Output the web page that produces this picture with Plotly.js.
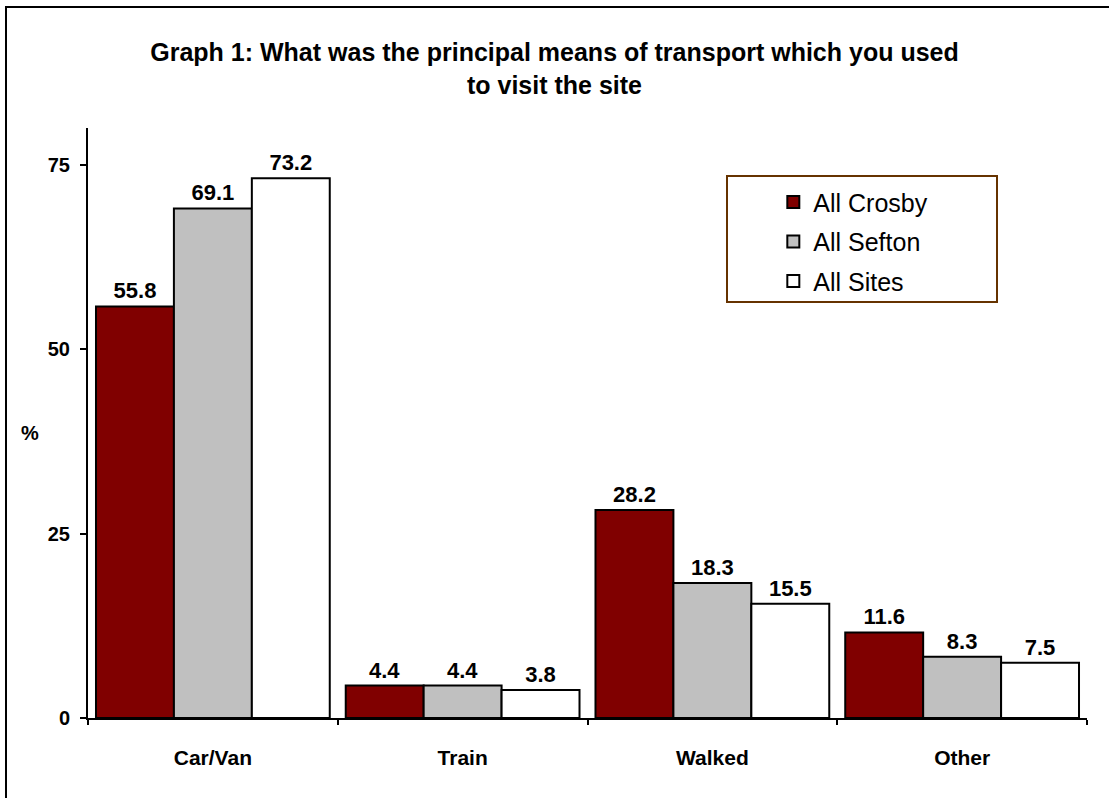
<!DOCTYPE html>
<html><head><meta charset="utf-8">
<script src="https://cdn.plot.ly/plotly-3.0.1.min.js"></script>
<style>
html,body{margin:0;padding:0;background:#fff;overflow:hidden}
#wrap{position:relative;width:1109px;height:798px}
#chart{position:absolute;left:0;top:0;width:1109px;height:798px}
#frame{position:absolute;left:5px;top:6px;width:1200px;height:900px;border-left:2px solid #000;border-top:2px solid #000;pointer-events:none}
</style></head>
<body><div id="wrap"><div id="chart"></div><div id="frame"></div></div>
<script>
const categories = ["Car/Van", "Train", "Walked", "Other"];
const seriesNames = ["All Crosby", "All Sefton", "All Sites"];
const allCrosby = [55.8, 4.4, 28.2, 11.6];
const allSefton = [69.1, 4.4, 18.3, 8.3];
const allSites = [73.2, 3.8, 15.5, 7.5];
const yTicks = [0, 25, 50, 75];

const colors = ["#800000", "#C0C0C0", "#FFFFFF"];
const values = [allCrosby, allSefton, allSites];
const F = "Arial, 'Liberation Sans', sans-serif";

const traces = values.map((v, i) => ({
  type: "bar",
  name: seriesNames[i],
  x: categories,
  y: v,
  legendgroup: "g" + i,
  marker: {color: colors[i], line: {color: "#000", width: 2}},
  texttemplate: "%{y:.1f}",
  textposition: "outside",
  textfont: {family: F, size: 22, color: "#000", weight: "bold"},
  cliponaxis: false,
  hoverinfo: "x+y+name"
}));

const layout = {
  width: 1109, height: 798,
  margin: {l: 88, r: 22, t: 128, b: 80, pad: 0},
  paper_bgcolor: "#fff", plot_bgcolor: "#fff",
  font: {family: F, color: "#000"},
  title: {
    text: "<b>Graph 1: What was the principal means of transport which you used<br>to visit the site</b>",
    font: {family: F, size: 25, color: "#000"},
    x: 0.5, xanchor: "center", xref: "container",
    y: 1 - 61/798, yanchor: "top", yref: "container"
  },
  barmode: "group",
  bargap: 0.064,
  bargroupgap: 0,
  xaxis: {
    type: "category",
    showline: true, linecolor: "#000", linewidth: 2,
    ticks: "outside", tickson: "boundaries", ticklen: 5, tickwidth: 2, tickcolor: "#000",
    tickfont: {family: F, size: 21, color: "#000", weight: "bold"},
    ticklabelstandoff: 20,
    showgrid: false, zeroline: false
  },
  yaxis: {
    range: [0, 80],
    tickvals: yTicks,
    showline: true, linecolor: "#000", linewidth: 2,
    ticks: "outside", ticklen: 6, tickwidth: 2, tickcolor: "#000",
    tickfont: {family: F, size: 20, color: "#000", weight: "bold"},
    ticklabelstandoff: 6,
    showgrid: false, zeroline: false
  },
  showlegend: true,
  legend: {
    x: 0.686, xanchor: "left", y: 0.913, yanchor: "top",
    bgcolor: "rgba(0,0,0,0)", borderwidth: 0,
    font: {family: F, size: 25, color: "#000"},
    traceorder: "grouped", tracegroupgap: 4
  },
  shapes: [{
    type: "rect", xref: "paper", yref: "paper",
    x0: (727-88)/999, x1: (997-88)/999,
    y0: (718-302)/590, y1: (718-176)/590,
    line: {color: "#663300", width: 2}, fillcolor: "rgba(0,0,0,0)", layer: "below"
  }],
  annotations: [{
    text: "<b>%</b>", xref: "paper", yref: "paper",
    x: (30-88)/999, y: (718-433)/590, xanchor: "center", yanchor: "middle",
    showarrow: false, font: {family: F, size: 20, color: "#000"}
  }]
};

Plotly.newPlot("chart", traces, layout, {displayModeBar: false, staticPlot: true});
</script></body></html>
